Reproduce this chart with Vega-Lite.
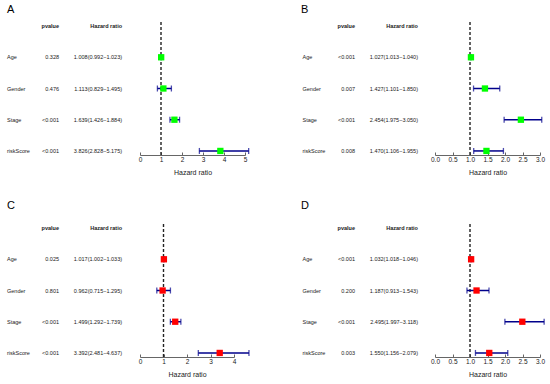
{
  "$schema": "https://vega.github.io/schema/vega-lite/v6.json",
  "padding": {"left": 7, "top": 4, "right": 5, "bottom": 5},
  "bounds": "flush",
  "columns": 4,
  "spacing": {"row": 69, "column": 0},
  "datasets": {
    "A": [
      {"variable": "Age", "pvalue": "0.328", "hrText": "1.008(0.992−1.023)", "hr": 1.008, "lo": 0.992, "hi": 1.023},
      {"variable": "Gender", "pvalue": "0.476", "hrText": "1.113(0.829−1.495)", "hr": 1.113, "lo": 0.829, "hi": 1.495},
      {"variable": "Stage", "pvalue": "<0.001", "hrText": "1.639(1.426−1.884)", "hr": 1.639, "lo": 1.426, "hi": 1.884},
      {"variable": "riskScore", "pvalue": "<0.001", "hrText": "3.826(2.828−5.175)", "hr": 3.826, "lo": 2.828, "hi": 5.175}
    ],
    "B": [
      {"variable": "Age", "pvalue": "<0.001", "hrText": "1.027(1.013−1.040)", "hr": 1.027, "lo": 1.013, "hi": 1.040},
      {"variable": "Gender", "pvalue": "0.007", "hrText": "1.427(1.101−1.850)", "hr": 1.427, "lo": 1.101, "hi": 1.850},
      {"variable": "Stage", "pvalue": "<0.001", "hrText": "2.454(1.975−3.050)", "hr": 2.454, "lo": 1.975, "hi": 3.050},
      {"variable": "riskScore", "pvalue": "0.008", "hrText": "1.470(1.106−1.955)", "hr": 1.470, "lo": 1.106, "hi": 1.955}
    ],
    "C": [
      {"variable": "Age", "pvalue": "0.025", "hrText": "1.017(1.002−1.033)", "hr": 1.017, "lo": 1.002, "hi": 1.033},
      {"variable": "Gender", "pvalue": "0.801", "hrText": "0.962(0.715−1.295)", "hr": 0.962, "lo": 0.715, "hi": 1.295},
      {"variable": "Stage", "pvalue": "<0.001", "hrText": "1.499(1.292−1.739)", "hr": 1.499, "lo": 1.292, "hi": 1.739},
      {"variable": "riskScore", "pvalue": "<0.001", "hrText": "3.392(2.481−4.637)", "hr": 3.392, "lo": 2.481, "hi": 4.637}
    ],
    "D": [
      {"variable": "Age", "pvalue": "<0.001", "hrText": "1.032(1.018−1.046)", "hr": 1.032, "lo": 1.018, "hi": 1.046},
      {"variable": "Gender", "pvalue": "0.200", "hrText": "1.187(0.913−1.543)", "hr": 1.187, "lo": 0.913, "hi": 1.543},
      {"variable": "Stage", "pvalue": "<0.001", "hrText": "2.495(1.997−3.118)", "hr": 2.495, "lo": 1.997, "hi": 3.118},
      {"variable": "riskScore", "pvalue": "0.003", "hrText": "1.550(1.156−2.079)", "hr": 1.550, "lo": 1.156, "hi": 2.079}
    ],
    "header": [{"pv": "pvalue", "hr": "Hazard ratio"}],
    "ref": [{"ref": 1}]
  },
  "concat": [
    {
      "width": 133, "height": 133,
      "title": {"text": "A", "anchor": "start", "dx": 0, "offset": 7},
      "layer": [
        {"data": {"name": "A"}, "mark": {"type": "text", "align": "left", "baseline": "middle"},
         "encoding": {"x": {"datum": 0, "type": "quantitative", "scale": {"domain": [0, 1]}, "axis": null},
                      "y": {"field": "variable", "type": "nominal", "scale": {"type": "point", "domain": [" ", "Age", "Gender", "Stage", "riskScore"], "padding": 0.13}, "axis": null},
                      "text": {"field": "variable"}}},
        {"data": {"name": "A"}, "mark": {"type": "text", "align": "right", "baseline": "middle"},
         "encoding": {"x": {"datum": 0.391, "type": "quantitative"}, "y": {"field": "variable", "type": "nominal"}, "text": {"field": "pvalue"}}},
        {"data": {"name": "A"}, "mark": {"type": "text", "align": "right", "baseline": "middle"},
         "encoding": {"x": {"datum": 0.865, "type": "quantitative"}, "y": {"field": "variable", "type": "nominal"}, "text": {"field": "hrText"}}},
        {"data": {"name": "header"}, "mark": {"type": "text", "align": "right", "baseline": "middle", "fontWeight": "bold"},
         "encoding": {"x": {"datum": 0.391, "type": "quantitative"}, "y": {"datum": " ", "type": "nominal"}, "text": {"field": "pv"}}},
        {"data": {"name": "header"}, "mark": {"type": "text", "align": "right", "baseline": "middle", "fontWeight": "bold"},
         "encoding": {"x": {"datum": 0.865, "type": "quantitative"}, "y": {"datum": " ", "type": "nominal"}, "text": {"field": "hr"}}}
      ]
    },
    {
      "width": 105, "height": 133,
      "layer": [
        {"data": {"name": "ref"}, "mark": {"type": "rule", "strokeDash": [3, 2], "color": "#222", "strokeWidth": 1.4},
         "encoding": {"x": {"field": "ref", "type": "quantitative", "scale": {"domain": [0, 5], "nice": false},
                            "axis": {"values": [0, 1, 2, 3, 4, 5], "format": "d", "title": "Hazard ratio", "labelOverlap": false}}}},
        {"data": {"name": "A"}, "mark": {"type": "rule", "color": "darkblue", "strokeWidth": 1.5},
         "encoding": {"x": {"field": "lo", "type": "quantitative", "scale": {"domain": [0, 5], "nice": false},
                            "axis": {"values": [0, 1, 2, 3, 4, 5], "format": "d", "title": "Hazard ratio", "labelOverlap": false}}, "x2": {"field": "hi"},
                      "y": {"field": "variable", "type": "nominal", "scale": {"type": "point", "domain": [" ", "Age", "Gender", "Stage", "riskScore"], "padding": 0.13}, "axis": null}}},
        {"data": {"name": "A"}, "mark": {"type": "tick", "color": "darkblue", "size": 6, "thickness": 1.3, "orient": "vertical"},
         "encoding": {"x": {"field": "lo", "type": "quantitative", "scale": {"domain": [0, 5], "nice": false},
                            "axis": {"values": [0, 1, 2, 3, 4, 5], "format": "d", "title": "Hazard ratio", "labelOverlap": false}}, "y": {"field": "variable", "type": "nominal"}}},
        {"data": {"name": "A"}, "mark": {"type": "tick", "color": "darkblue", "size": 6, "thickness": 1.3, "orient": "vertical"},
         "encoding": {"x": {"field": "hi", "type": "quantitative", "scale": {"domain": [0, 5], "nice": false},
                            "axis": {"values": [0, 1, 2, 3, 4, 5], "format": "d", "title": "Hazard ratio", "labelOverlap": false}}, "y": {"field": "variable", "type": "nominal"}}},
        {"data": {"name": "A"}, "mark": {"type": "square", "size": 40, "color": "#00ff00", "opacity": 1},
         "encoding": {"x": {"field": "hr", "type": "quantitative", "scale": {"domain": [0, 5], "nice": false},
                            "axis": {"values": [0, 1, 2, 3, 4, 5], "format": "d", "title": "Hazard ratio", "labelOverlap": false}}, "y": {"field": "variable", "type": "nominal"}}}
      ]
    },
    {
      "width": 190, "height": 133,
      "title": {"text": "B", "anchor": "start", "dx": 56, "offset": 7},
      "layer": [
        {"data": {"name": "B"}, "mark": {"type": "text", "align": "left", "baseline": "middle"},
         "encoding": {"x": {"datum": 0.3026, "type": "quantitative", "scale": {"domain": [0, 1]}, "axis": null},
                      "y": {"field": "variable", "type": "nominal", "scale": {"type": "point", "domain": [" ", "Age", "Gender", "Stage", "riskScore"], "padding": 0.13}, "axis": null},
                      "text": {"field": "variable"}}},
        {"data": {"name": "B"}, "mark": {"type": "text", "align": "right", "baseline": "middle"},
         "encoding": {"x": {"datum": 0.579, "type": "quantitative"}, "y": {"field": "variable", "type": "nominal"}, "text": {"field": "pvalue"}}},
        {"data": {"name": "B"}, "mark": {"type": "text", "align": "right", "baseline": "middle"},
         "encoding": {"x": {"datum": 0.9105, "type": "quantitative"}, "y": {"field": "variable", "type": "nominal"}, "text": {"field": "hrText"}}},
        {"data": {"name": "header"}, "mark": {"type": "text", "align": "right", "baseline": "middle", "fontWeight": "bold"},
         "encoding": {"x": {"datum": 0.579, "type": "quantitative"}, "y": {"datum": " ", "type": "nominal"}, "text": {"field": "pv"}}},
        {"data": {"name": "header"}, "mark": {"type": "text", "align": "right", "baseline": "middle", "fontWeight": "bold"},
         "encoding": {"x": {"datum": 0.9105, "type": "quantitative"}, "y": {"datum": " ", "type": "nominal"}, "text": {"field": "hr"}}}
      ]
    },
    {
      "width": 105, "height": 133,
      "layer": [
        {"data": {"name": "ref"}, "mark": {"type": "rule", "strokeDash": [3, 2], "color": "#222", "strokeWidth": 1.4},
         "encoding": {"x": {"field": "ref", "type": "quantitative", "scale": {"domain": [0, 3], "nice": false},
                            "axis": {"values": [0, 0.5, 1, 1.5, 2, 2.5, 3], "format": ".1f", "title": "Hazard ratio", "labelOverlap": false}}}},
        {"data": {"name": "B"}, "mark": {"type": "rule", "color": "darkblue", "strokeWidth": 1.5},
         "encoding": {"x": {"field": "lo", "type": "quantitative", "scale": {"domain": [0, 3], "nice": false},
                            "axis": {"values": [0, 0.5, 1, 1.5, 2, 2.5, 3], "format": ".1f", "title": "Hazard ratio", "labelOverlap": false}}, "x2": {"field": "hi"},
                      "y": {"field": "variable", "type": "nominal", "scale": {"type": "point", "domain": [" ", "Age", "Gender", "Stage", "riskScore"], "padding": 0.13}, "axis": null}}},
        {"data": {"name": "B"}, "mark": {"type": "tick", "color": "darkblue", "size": 6, "thickness": 1.3, "orient": "vertical"},
         "encoding": {"x": {"field": "lo", "type": "quantitative", "scale": {"domain": [0, 3], "nice": false},
                            "axis": {"values": [0, 0.5, 1, 1.5, 2, 2.5, 3], "format": ".1f", "title": "Hazard ratio", "labelOverlap": false}}, "y": {"field": "variable", "type": "nominal"}}},
        {"data": {"name": "B"}, "mark": {"type": "tick", "color": "darkblue", "size": 6, "thickness": 1.3, "orient": "vertical"},
         "encoding": {"x": {"field": "hi", "type": "quantitative", "scale": {"domain": [0, 3], "nice": false},
                            "axis": {"values": [0, 0.5, 1, 1.5, 2, 2.5, 3], "format": ".1f", "title": "Hazard ratio", "labelOverlap": false}}, "y": {"field": "variable", "type": "nominal"}}},
        {"data": {"name": "B"}, "mark": {"type": "square", "size": 40, "color": "#00ff00", "opacity": 1},
         "encoding": {"x": {"field": "hr", "type": "quantitative", "scale": {"domain": [0, 3], "nice": false},
                            "axis": {"values": [0, 0.5, 1, 1.5, 2, 2.5, 3], "format": ".1f", "title": "Hazard ratio", "labelOverlap": false}}, "y": {"field": "variable", "type": "nominal"}}}
      ]
    },
    {
      "width": 133, "height": 133,
      "title": {"text": "C", "anchor": "start", "dx": 0, "offset": 13},
      "layer": [
        {"data": {"name": "C"}, "mark": {"type": "text", "align": "left", "baseline": "middle"},
         "encoding": {"x": {"datum": 0, "type": "quantitative", "scale": {"domain": [0, 1]}, "axis": null},
                      "y": {"field": "variable", "type": "nominal", "scale": {"type": "point", "domain": [" ", "Age", "Gender", "Stage", "riskScore"], "padding": 0.13}, "axis": null},
                      "text": {"field": "variable"}}},
        {"data": {"name": "C"}, "mark": {"type": "text", "align": "right", "baseline": "middle"},
         "encoding": {"x": {"datum": 0.391, "type": "quantitative"}, "y": {"field": "variable", "type": "nominal"}, "text": {"field": "pvalue"}}},
        {"data": {"name": "C"}, "mark": {"type": "text", "align": "right", "baseline": "middle"},
         "encoding": {"x": {"datum": 0.865, "type": "quantitative"}, "y": {"field": "variable", "type": "nominal"}, "text": {"field": "hrText"}}},
        {"data": {"name": "header"}, "mark": {"type": "text", "align": "right", "baseline": "middle", "fontWeight": "bold"},
         "encoding": {"x": {"datum": 0.391, "type": "quantitative"}, "y": {"datum": " ", "type": "nominal"}, "text": {"field": "pv"}}},
        {"data": {"name": "header"}, "mark": {"type": "text", "align": "right", "baseline": "middle", "fontWeight": "bold"},
         "encoding": {"x": {"datum": 0.865, "type": "quantitative"}, "y": {"datum": " ", "type": "nominal"}, "text": {"field": "hr"}}}
      ]
    },
    {
      "width": 94, "height": 133,
      "layer": [
        {"data": {"name": "ref"}, "mark": {"type": "rule", "strokeDash": [3, 2], "color": "#222", "strokeWidth": 1.4},
         "encoding": {"x": {"field": "ref", "type": "quantitative", "scale": {"domain": [0, 4], "nice": false},
                            "axis": {"values": [0, 1, 2, 3, 4], "format": "d", "title": "Hazard ratio", "labelOverlap": false}}}},
        {"data": {"name": "C"}, "mark": {"type": "rule", "color": "darkblue", "strokeWidth": 1.5},
         "encoding": {"x": {"field": "lo", "type": "quantitative", "scale": {"domain": [0, 4], "nice": false},
                            "axis": {"values": [0, 1, 2, 3, 4], "format": "d", "title": "Hazard ratio", "labelOverlap": false}}, "x2": {"field": "hi"},
                      "y": {"field": "variable", "type": "nominal", "scale": {"type": "point", "domain": [" ", "Age", "Gender", "Stage", "riskScore"], "padding": 0.13}, "axis": null}}},
        {"data": {"name": "C"}, "mark": {"type": "tick", "color": "darkblue", "size": 6, "thickness": 1.3, "orient": "vertical"},
         "encoding": {"x": {"field": "lo", "type": "quantitative", "scale": {"domain": [0, 4], "nice": false},
                            "axis": {"values": [0, 1, 2, 3, 4], "format": "d", "title": "Hazard ratio", "labelOverlap": false}}, "y": {"field": "variable", "type": "nominal"}}},
        {"data": {"name": "C"}, "mark": {"type": "tick", "color": "darkblue", "size": 6, "thickness": 1.3, "orient": "vertical"},
         "encoding": {"x": {"field": "hi", "type": "quantitative", "scale": {"domain": [0, 4], "nice": false},
                            "axis": {"values": [0, 1, 2, 3, 4], "format": "d", "title": "Hazard ratio", "labelOverlap": false}}, "y": {"field": "variable", "type": "nominal"}}},
        {"data": {"name": "C"}, "mark": {"type": "square", "size": 40, "color": "#ff0000", "opacity": 1},
         "encoding": {"x": {"field": "hr", "type": "quantitative", "scale": {"domain": [0, 4], "nice": false},
                            "axis": {"values": [0, 1, 2, 3, 4], "format": "d", "title": "Hazard ratio", "labelOverlap": false}}, "y": {"field": "variable", "type": "nominal"}}}
      ]
    },
    {
      "width": 190, "height": 133,
      "title": {"text": "D", "anchor": "start", "dx": 56, "offset": 13},
      "layer": [
        {"data": {"name": "D"}, "mark": {"type": "text", "align": "left", "baseline": "middle"},
         "encoding": {"x": {"datum": 0.3026, "type": "quantitative", "scale": {"domain": [0, 1]}, "axis": null},
                      "y": {"field": "variable", "type": "nominal", "scale": {"type": "point", "domain": [" ", "Age", "Gender", "Stage", "riskScore"], "padding": 0.13}, "axis": null},
                      "text": {"field": "variable"}}},
        {"data": {"name": "D"}, "mark": {"type": "text", "align": "right", "baseline": "middle"},
         "encoding": {"x": {"datum": 0.579, "type": "quantitative"}, "y": {"field": "variable", "type": "nominal"}, "text": {"field": "pvalue"}}},
        {"data": {"name": "D"}, "mark": {"type": "text", "align": "right", "baseline": "middle"},
         "encoding": {"x": {"datum": 0.9105, "type": "quantitative"}, "y": {"field": "variable", "type": "nominal"}, "text": {"field": "hrText"}}},
        {"data": {"name": "header"}, "mark": {"type": "text", "align": "right", "baseline": "middle", "fontWeight": "bold"},
         "encoding": {"x": {"datum": 0.579, "type": "quantitative"}, "y": {"datum": " ", "type": "nominal"}, "text": {"field": "pv"}}},
        {"data": {"name": "header"}, "mark": {"type": "text", "align": "right", "baseline": "middle", "fontWeight": "bold"},
         "encoding": {"x": {"datum": 0.9105, "type": "quantitative"}, "y": {"datum": " ", "type": "nominal"}, "text": {"field": "hr"}}}
      ]
    },
    {
      "width": 105, "height": 133,
      "layer": [
        {"data": {"name": "ref"}, "mark": {"type": "rule", "strokeDash": [3, 2], "color": "#222", "strokeWidth": 1.4},
         "encoding": {"x": {"field": "ref", "type": "quantitative", "scale": {"domain": [0, 3], "nice": false},
                            "axis": {"values": [0, 0.5, 1, 1.5, 2, 2.5, 3], "format": ".1f", "title": "Hazard ratio", "labelOverlap": false}}}},
        {"data": {"name": "D"}, "mark": {"type": "rule", "color": "darkblue", "strokeWidth": 1.5},
         "encoding": {"x": {"field": "lo", "type": "quantitative", "scale": {"domain": [0, 3], "nice": false},
                            "axis": {"values": [0, 0.5, 1, 1.5, 2, 2.5, 3], "format": ".1f", "title": "Hazard ratio", "labelOverlap": false}}, "x2": {"field": "hi"},
                      "y": {"field": "variable", "type": "nominal", "scale": {"type": "point", "domain": [" ", "Age", "Gender", "Stage", "riskScore"], "padding": 0.13}, "axis": null}}},
        {"data": {"name": "D"}, "mark": {"type": "tick", "color": "darkblue", "size": 6, "thickness": 1.3, "orient": "vertical"},
         "encoding": {"x": {"field": "lo", "type": "quantitative", "scale": {"domain": [0, 3], "nice": false},
                            "axis": {"values": [0, 0.5, 1, 1.5, 2, 2.5, 3], "format": ".1f", "title": "Hazard ratio", "labelOverlap": false}}, "y": {"field": "variable", "type": "nominal"}}},
        {"data": {"name": "D"}, "mark": {"type": "tick", "color": "darkblue", "size": 6, "thickness": 1.3, "orient": "vertical"},
         "encoding": {"x": {"field": "hi", "type": "quantitative", "scale": {"domain": [0, 3], "nice": false},
                            "axis": {"values": [0, 0.5, 1, 1.5, 2, 2.5, 3], "format": ".1f", "title": "Hazard ratio", "labelOverlap": false}}, "y": {"field": "variable", "type": "nominal"}}},
        {"data": {"name": "D"}, "mark": {"type": "square", "size": 40, "color": "#ff0000", "opacity": 1},
         "encoding": {"x": {"field": "hr", "type": "quantitative", "scale": {"domain": [0, 3], "nice": false},
                            "axis": {"values": [0, 0.5, 1, 1.5, 2, 2.5, 3], "format": ".1f", "title": "Hazard ratio", "labelOverlap": false}}, "y": {"field": "variable", "type": "nominal"}}}
      ]
    }
  ],
  "config": {
    "font": "Liberation Sans",
    "view": {"stroke": null},
    "text": {"fontSize": 5.5, "color": "#1a1a1a", "font": "Liberation Sans"},
    "title": {"fontSize": 11, "fontWeight": "normal", "color": "#000", "font": "Liberation Sans"},
    "axis": {"grid": false, "domain": true, "ticks": true, "domainColor": "#666", "tickColor": "#666", "tickSize": -3, "labelPadding": 4,
             "labelFontSize": 6.5, "labelColor": "#222", "titleFontSize": 7, "titleFontWeight": "normal", "titleColor": "#222",
             "titlePadding": 6, "labelFlush": false, "labelOverlap": false, "labelFont": "Liberation Sans", "titleFont": "Liberation Sans"}
  }
}
